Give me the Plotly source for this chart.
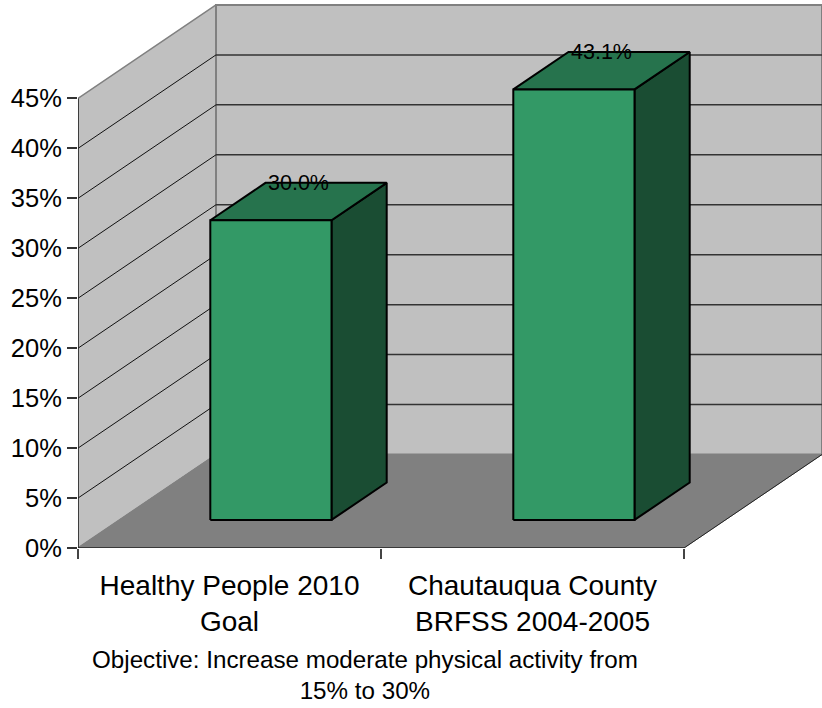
import plotly.graph_objects as go

# Chart data
categories = ["Healthy People 2010<br>Goal", "Chautauqua County<br>BRFSS 2004-2005"]
values = [30.0, 43.1]
percent_ticks = [0, 5, 10, 15, 20, 25, 30, 35, 40, 45]
percent_labels = ["0%", "5%", "10%", "15%", "20%", "25%", "30%", "35%", "40%", "45%"]
footnote = "Objective: Increase moderate physical activity from<br>15% to 30%"

# Oblique projection of the 3D box: depth runs 0 (front) to 1 (back)
DEPTH_X = 138 / 303
DEPTH_Y = 93.5 / 9.99
BAR_WIDTH = 0.4
BAR_NEAR, BAR_FAR = 0.3, 0.7
LABEL_LIFT = 0.6
TOP = percent_ticks[-1]
N = len(categories)

FONT = "Liberation Sans, Arial, sans-serif"


def project(cat, value, depth):
    return cat + depth * DEPTH_X, value + depth * DEPTH_Y


def polygon(corners, fill, line_color, line_width):
    pts = [project(*c) for c in corners]
    pts.append(pts[0])
    return go.Scatter(
        x=[p[0] for p in pts], y=[p[1] for p in pts],
        mode="lines", fill="toself", fillcolor=fill,
        line=dict(color=line_color, width=line_width), cliponaxis=False,
    )


def segments(pairs, color, width):
    xs, ys = [], []
    for a, b in pairs:
        pa, pb = project(*a), project(*b)
        xs += [pa[0], pb[0], None]
        ys += [pa[1], pb[1], None]
    return go.Scatter(x=xs, y=ys, mode="lines", line=dict(color=color, width=width), cliponaxis=False)


fig = go.Figure()

# Walls and floor
fig.add_trace(polygon([(0, 0, 0), (0, TOP, 0), (0, TOP, 1), (0, 0, 1)], "#C0C0C0", "#808080", 1.5))
fig.add_trace(polygon([(0, 0, 1), (0, TOP, 1), (N, TOP, 1), (N, 0, 1)], "#C0C0C0", "#808080", 2))
fig.add_trace(polygon([(0, 0, 0), (0, 0, 1), (N, 0, 1), (N, 0, 0)], "#808080", "#808080", 1))

# Gridlines on the back and left walls
grid = [v for v in percent_ticks if 0 < v < TOP]
fig.add_trace(segments([((0, v, 1), (N, v, 1)) for v in grid], "#333333", 1.5))
fig.add_trace(segments([((0, v, 0), (0, v, 1)) for v in grid], "#111111", 1))

# Axis edges in front of the floor
fig.add_trace(segments([((0, 0, 0), (0, TOP, 0)), ((0, 0, 0), (N, 0, 0))], "#222222", 1.5))
fig.add_trace(segments([((N, 0, 0), (N, 0, 1))], "#222222", 1))

# Bars
for i, v in enumerate(values):
    left = i + 0.5 - BAR_WIDTH / 2
    right = i + 0.5 + BAR_WIDTH / 2
    fig.add_trace(polygon([(right, 0, BAR_NEAR), (right, v, BAR_NEAR), (right, v, BAR_FAR), (right, 0, BAR_FAR)],
                          "#1A4D33", "#000000", 2))
    fig.add_trace(polygon([(left, v, BAR_NEAR), (left, v, BAR_FAR), (right, v, BAR_FAR), (right, v, BAR_NEAR)],
                          "#26734D", "#000000", 2))
    fig.add_trace(polygon([(left, 0, BAR_NEAR), (left, v, BAR_NEAR), (right, v, BAR_NEAR), (right, 0, BAR_NEAR)],
                          "#339966", "#000000", 2))

# Value labels sit over the top faces
label_pts = [project(i + 0.5, v + LABEL_LIFT, 0.5) for i, v in enumerate(values)]
fig.add_trace(go.Scatter(
    x=[p[0] for p in label_pts], y=[p[1] for p in label_pts],
    mode="text", text=[f"{v:.1f}%" for v in values], textposition="top center",
    textfont=dict(family=FONT, size=21.5, color="#000000"), cliponaxis=False,
))

fig.update_layout(
    width=822, height=708, autosize=False,
    margin=dict(l=78, r=0, t=0, b=160, pad=0),
    paper_bgcolor="white", plot_bgcolor="white",
    showlegend=False, hovermode=False,
    font=dict(family=FONT, color="#000000"),
    xaxis=dict(
        range=[0, 744 / 303], showgrid=False, zeroline=False, showline=False,
        tickmode="array", tickvals=[i + 0.5 for i in range(N)], ticktext=categories,
        ticks="outside", ticklen=12, tickcolor="rgba(0,0,0,0)", tickfont=dict(size=28),
        minor=dict(tickmode="array", tickvals=list(range(N + 1)), ticks="outside", ticklen=10,
                   tickcolor="#444444", tickwidth=1.5),
    ),
    yaxis=dict(
        range=[0, 548 / 9.99], showgrid=False, zeroline=False, showline=False,
        tickmode="array", tickvals=percent_ticks, ticktext=percent_labels,
        ticks="outside", ticklen=10, tickcolor="#333333", tickwidth=1.5,
        tickfont=dict(size=25.5),
    ),
    annotations=[dict(
        text=footnote, xref="paper", yref="paper", x=(365 - 78) / 744, y=-(644 - 548) / 548,
        xanchor="center", yanchor="top", showarrow=False, align="center",
        font=dict(family=FONT, size=24.2, color="#000000"),
    )],
)

fig.write_html("out.html")
